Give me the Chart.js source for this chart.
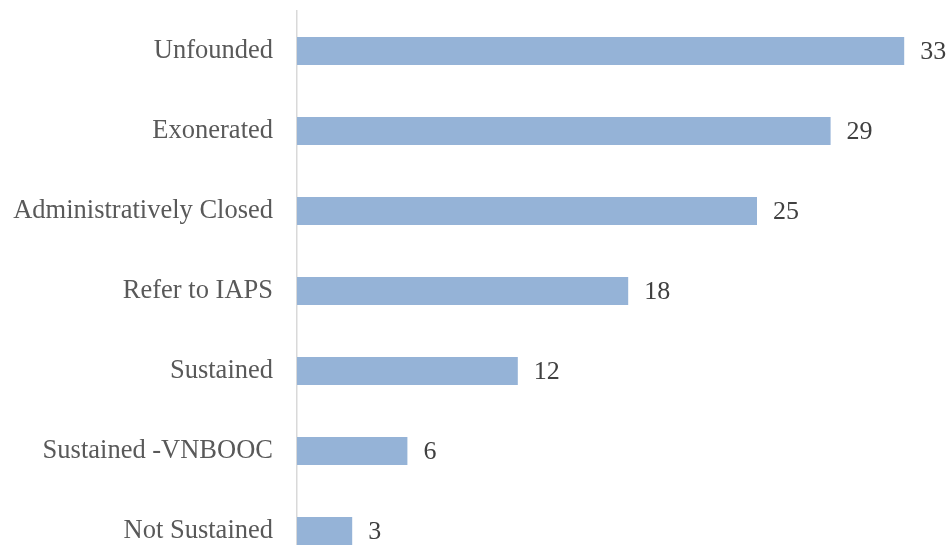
<!DOCTYPE html>
<html>
<head>
<meta charset="utf-8">
<script src="https://cdn.jsdelivr.net/npm/chart.js@4/dist/chart.umd.min.js"></script>
<style>
  html, body { margin: 0; padding: 0; background: #fff; overflow: hidden; }
  #wrap { width: 949px; height: 571px; position: relative; }
</style>
</head>
<body>
<div id="wrap"><canvas id="chart"></canvas></div>
<script>
const categories = ['Unfounded', 'Exonerated', 'Administratively Closed', 'Refer to IAPS',
                    'Sustained', 'Sustained -VNBOOC', 'Not Sustained'];
const counts = [33, 29, 25, 18, 12, 6, 3];

const FONT = '"Liberation Serif", "Times New Roman", serif';

// draws the number to the right of each bar
const valueLabels = {
    id: 'valueLabels',
    afterDatasetsDraw (chart)
    {
        let ctx = chart.ctx,
            meta = chart.getDatasetMeta(0);
        ctx.save();
        ctx.font = '26px ' + FONT;
        ctx.fillStyle = '#404040';
        ctx.textAlign = 'left';
        ctx.textBaseline = 'middle';
        meta.data.forEach((bar, i) => {
            ctx.fillText(String(counts[i]), bar.x + 16, bar.y + 1);
        });
        ctx.restore();
    }
};

new Chart(document.getElementById('chart'), {
    type: 'bar',
    data: {
        labels: categories,
        datasets: [{
            data: counts,
            backgroundColor: '#95b3d7',
            barPercentage: 0.35,
            categoryPercentage: 1
        }]
    },
    options: {
        indexAxis: 'y',
        responsive: true,
        maintainAspectRatio: false,
        animation: false,
        layout: { padding: { top: 11, right: 8, bottom: 0, left: 0 } },
        plugins: { legend: { display: false }, tooltip: { enabled: false } },
        scales: {
            x: { display: false, min: 0, max: 35 },
            y: {
                offset: true,
                grid: { display: true, color: 'rgba(0,0,0,0)', drawTicks: true,
                        tickLength: 24, tickColor: 'rgba(0,0,0,0)' },
                border: { display: true, color: '#d9d9d9', width: 1.5 },
                ticks: {
                    padding: 0,
                    color: '#595959',
                    font: { family: FONT, size: 26.5 }
                },
                afterFit (scale) {
                    scale.width = 297;
                    scale.paddingTop = 0;
                    scale.paddingBottom = 0;
                }
            }
        }
    },
    plugins: [valueLabels]
});
</script>
</body>
</html>
